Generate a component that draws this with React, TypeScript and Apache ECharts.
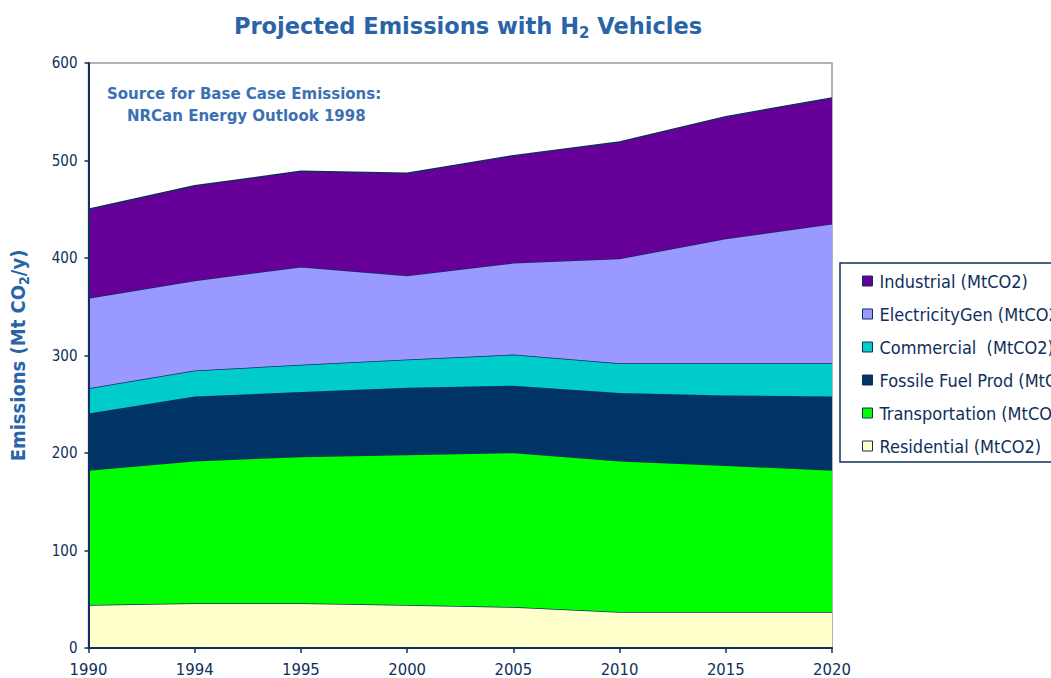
import React, { useEffect, useRef } from "react";
import * as echarts from "echarts";

// Projection years shown on the category axis
const years = ["1990", "1994", "1995", "2000", "2005", "2010", "2015", "2020"];

// Emissions by sector, Mt CO2 per year (stacked bottom to top)
const residential = [44, 46, 46, 44, 42, 37, 37, 37];
const transportation = [138.5, 146, 150.5, 154.5, 158.5, 155, 150.5, 145.5];
const fossilFuelProd = [58, 66, 66, 68.5, 68.5, 69.5, 71.5, 75.5];
const commercial = [26, 26.5, 28, 29, 32, 30.5, 33, 34];
const electricityGen = [92.5, 92.5, 100.5, 86, 94, 107.5, 128, 143];
const industrial = [91, 97, 98, 105, 110, 119.5, 125, 129];

const seriesNames = [
  "Residential (MtCO2)",
  "Transportation (MtCO2)",
  "Fossile Fuel Prod (MtCO2)",
  "Commercial  (MtCO2)",
  "ElectricityGen (MtCO2)",
  "Industrial (MtCO2)",
];
const seriesData = [residential, transportation, fossilFuelProd, commercial, electricityGen, industrial];
const seriesColors = ["#ffffcc", "#00ff00", "#003366", "#00cccc", "#9999ff", "#660099"];

const NAVY = "#0f2f5c";
const BLUE = "#2a64a8";
const FONT = "'DejaVu Sans', Verdana, sans-serif";
const NARROW = "'DejaVu Sans Condensed', 'Liberation Sans Narrow', 'DejaVu Sans', sans-serif";

export default function App() {
  const ref = useRef<HTMLDivElement>(null);

  useEffect(() => {
    if (!ref.current) return;
    const chart = echarts.init(ref.current, null, { renderer: "svg" });

    const series = seriesNames.map((name, i) => ({
      name,
      type: "line",
      stack: "total",
      data: seriesData[i],
      showSymbol: false,
      symbol: "none",
      lineStyle: { color: NAVY, width: 1.5 },
      itemStyle: { color: seriesColors[i], borderColor: NAVY, borderWidth: 1 },
      areaStyle: { color: seriesColors[i], opacity: 1 },
      z: 2 + i,
    }));

    chart.setOption({
      animation: false,
      backgroundColor: "#ffffff",
      textStyle: { fontFamily: FONT },
      title: {
        text: "Projected Emissions with H{sub|2} Vehicles",
        left: 229,
        top: 6,
        textStyle: {
          fontFamily: FONT,
          fontSize: 22.5,
          fontWeight: "bold",
          color: BLUE,
          rich: {
            sub: {
              fontFamily: FONT,
              fontSize: 15,
              fontWeight: "bold",
              color: BLUE,
              verticalAlign: "bottom",
              padding: [14, 0, 0, 0],
            },
          },
        },
      },
      legend: {
        orient: "vertical",
        left: 840,
        top: 263,
        data: [...seriesNames].reverse(),
        icon: "rect",
        itemWidth: 10,
        itemHeight: 10,
        itemGap: 15,
        padding: [9, 40, 7, 22],
        borderColor: NAVY,
        borderWidth: 1.5,
        backgroundColor: "#ffffff",
        itemStyle: { borderColor: NAVY, borderWidth: 1 },
        textStyle: { fontFamily: NARROW, fontSize: 18, color: NAVY, padding: [0, 0, 0, 2] },
      },
      grid: {
        left: 88,
        top: 63,
        width: 744,
        height: 585,
        show: true,
        borderColor: "#999999",
        borderWidth: 1.5,
        containLabel: false,
      },
      xAxis: {
        type: "category",
        data: years,
        boundaryGap: false,
        axisLine: { lineStyle: { color: NAVY, width: 2 } },
        axisTick: { alignWithLabel: true, length: 5, lineStyle: { color: NAVY, width: 1.5 } },
        axisLabel: { color: NAVY, fontSize: 16.5, fontFamily: NARROW, margin: 13, interval: 0 },
        splitLine: { show: false },
        z: 10,
      },
      yAxis: {
        type: "value",
        min: 0,
        max: 600,
        interval: 100,
        name: "Emissions (Mt CO{sub|2}/y)",
        nameLocation: "middle",
        nameGap: 58,
        nameTextStyle: {
          fontFamily: NARROW,
          fontSize: 20,
          fontWeight: "bold",
          color: BLUE,
          rich: {
            sub: {
              fontFamily: NARROW,
              fontSize: 14,
              fontWeight: "bold",
              color: BLUE,
              verticalAlign: "bottom",
              padding: [11, 0, 0, 0],
            },
          },
        },
        axisLine: { show: true, lineStyle: { color: NAVY, width: 2 } },
        axisTick: { show: true, length: 4, lineStyle: { color: NAVY, width: 1.5 } },
        axisLabel: { color: NAVY, fontSize: 15, fontFamily: NARROW, margin: 11 },
        splitLine: { show: false },
        z: 10,
      },
      graphic: [
        {
          type: "text",
          left: 107,
          top: 86,
          z: 20,
          style: {
            text: "Source for Base Case Emissions:",
            fontFamily: FONT,
            fontSize: 15,
            fontWeight: "bold",
            fill: "#3b70b3",
          },
        },
        {
          type: "text",
          left: 127,
          top: 108,
          z: 20,
          style: {
            text: "NRCan Energy Outlook 1998",
            fontFamily: FONT,
            fontSize: 15,
            fontWeight: "bold",
            fill: "#3b70b3",
          },
        },
      ],
      series,
    });

    return () => chart.dispose();
  }, []);

  return (
    <div
      ref={ref}
      style={{ position: "fixed", left: 0, top: 0, width: 1051, height: 678 }}
    />
  );
}
